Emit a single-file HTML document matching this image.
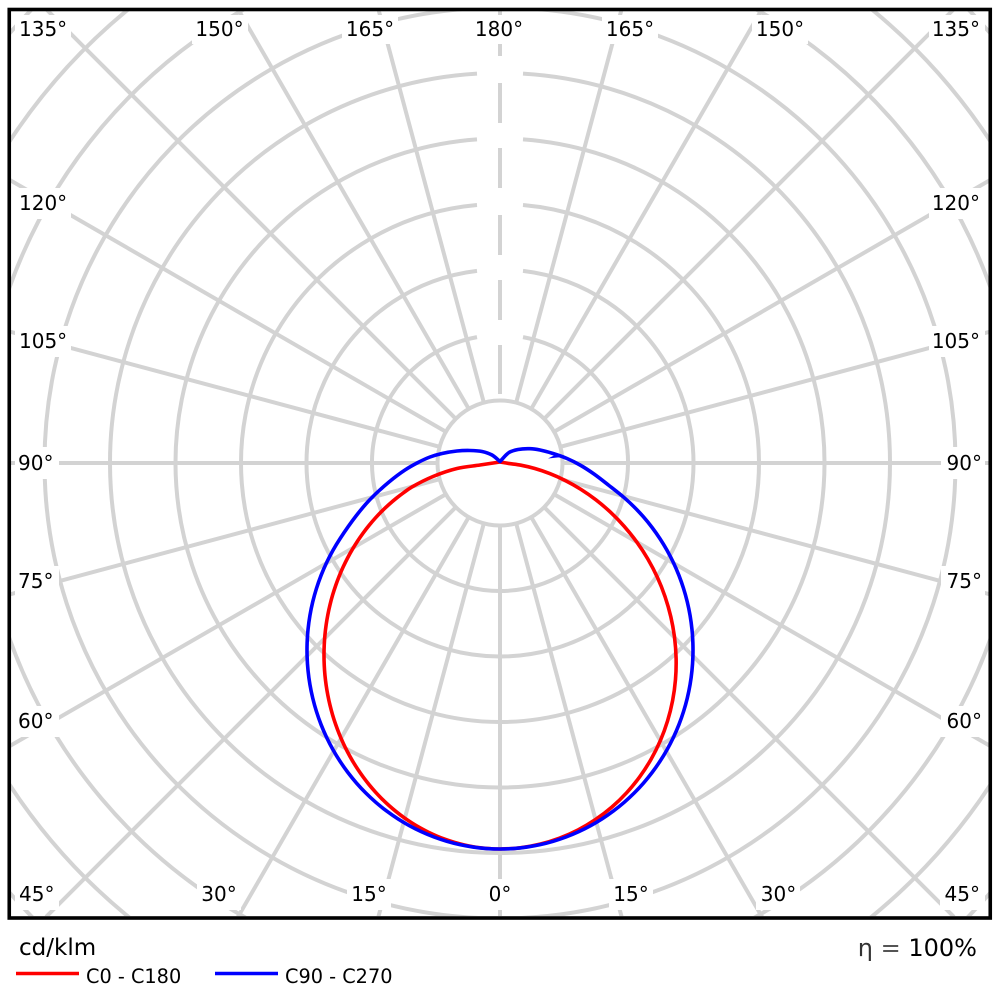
<!DOCTYPE html>
<html>
<head>
<meta charset="utf-8">
<style>
  html, body { margin: 0; padding: 0; background: #fff; width: 1000px; height: 1000px; overflow: hidden; }
  svg { display: block; }
  text { font-family: "DejaVu Sans", "Liberation Sans", sans-serif; }
</style>
</head>
<body>
<svg id="chart" width="1000" height="1000" viewBox="0 0 1000 1000" xmlns="http://www.w3.org/2000/svg">
  <rect x="0" y="0" width="1000" height="1000" fill="#ffffff"/>
  <defs>
    <clipPath id="frameClip">
      <rect x="11" y="11" width="978" height="905"/>
    </clipPath>
  </defs>

  <!-- GRID -->
  <g clip-path="url(#frameClip)" stroke="#d3d3d3" stroke-width="4" fill="none">
    <g transform="translate(500,463)">
      <circle cx="0" cy="0" r="62.5"/>
      <path d="M23,-125.9 A128,128 0 1 1 -23,-125.9"/>
      <path d="M23,-192.13 A193.5,193.5 0 1 1 -23,-192.13"/>
      <path d="M23,-257.98 A259,259 0 1 1 -23,-257.98"/>
      <path d="M23,-323.68 A324.5,324.5 0 1 1 -23,-323.68"/>
      <path d="M23,-389.32 A390,390 0 1 1 -23,-389.32"/>
      <path d="M23,-454.92 A455.5,455.5 0 1 1 -23,-454.92"/>
      <path d="M253.8,455 A521,521 0 0 0 491,174.2"/>
      <path d="M-253.8,455 A521,521 0 0 1 -491,174.2"/>
      <path d="M253.8,-455 A521,521 0 0 1 491,-174.2"/>
      <path d="M-253.8,-455 A521,521 0 0 0 -491,-174.2"/>
      <path d="M370.1,455 A586.5,586.5 0 0 0 491,320.8"/>
      <path d="M-370.1,455 A586.5,586.5 0 0 1 -491,320.8"/>
      <path d="M370.1,-455 A586.5,586.5 0 0 1 491,-320.8"/>
      <path d="M-370.1,-455 A586.5,586.5 0 0 0 -491,-320.8"/>
      <path d="M467,455 A652,652 0 0 0 491,429"/>
      <path d="M-467,455 A652,652 0 0 1 -491,429"/>
      <path d="M467,-455 A652,652 0 0 1 491,-429"/>
      <path d="M-467,-455 A652,652 0 0 0 -491,-429"/>

      <line x1="0" y1="62.5" x2="0" y2="455" transform="rotate(0)"/>
      <line x1="0" y1="62.5" x2="0" y2="471" transform="rotate(15)"/>
      <line x1="0" y1="62.5" x2="0" y2="525" transform="rotate(30)"/>
      <line x1="0" y1="62.5" x2="0" y2="642" transform="rotate(45)"/>
      <line x1="0" y1="62.5" x2="0" y2="566" transform="rotate(60)"/>
      <line x1="0" y1="62.5" x2="0" y2="508" transform="rotate(75)"/>
      <line x1="0" y1="62.5" x2="0" y2="491" transform="rotate(90)"/>
      <line x1="0" y1="62.5" x2="0" y2="508" transform="rotate(105)"/>
      <line x1="0" y1="62.5" x2="0" y2="566" transform="rotate(120)"/>
      <line x1="0" y1="62.5" x2="0" y2="641" transform="rotate(135)"/>
      <line x1="0" y1="62.5" x2="0" y2="524" transform="rotate(150)"/>
      <line x1="0" y1="62.5" x2="0" y2="470" transform="rotate(165)"/>
      <line x1="0" y1="62.5" x2="0" y2="470" transform="rotate(195)"/>
      <line x1="0" y1="62.5" x2="0" y2="524" transform="rotate(210)"/>
      <line x1="0" y1="62.5" x2="0" y2="641" transform="rotate(225)"/>
      <line x1="0" y1="62.5" x2="0" y2="566" transform="rotate(240)"/>
      <line x1="0" y1="62.5" x2="0" y2="508" transform="rotate(255)"/>
      <line x1="0" y1="62.5" x2="0" y2="491" transform="rotate(270)"/>
      <line x1="0" y1="62.5" x2="0" y2="508" transform="rotate(285)"/>
      <line x1="0" y1="62.5" x2="0" y2="566" transform="rotate(300)"/>
      <line x1="0" y1="62.5" x2="0" y2="642" transform="rotate(315)"/>
      <line x1="0" y1="62.5" x2="0" y2="525" transform="rotate(330)"/>
      <line x1="0" y1="62.5" x2="0" y2="471" transform="rotate(345)"/>
    </g>
    <line x1="500" y1="345" x2="500" y2="394"/>
    <line x1="500" y1="280" x2="500" y2="320"/>
    <line x1="500" y1="215" x2="500" y2="255"/>
    <line x1="500" y1="148" x2="500" y2="188"/>
    <line x1="500" y1="83" x2="500" y2="123"/>
    <line x1="500" y1="9" x2="500" y2="56"/>
  </g>

  <!-- LABEL BACKGROUNDS -->
  <g fill="#ffffff">
    <rect x="15" y="15" width="56" height="29"/>
    <rect x="192" y="15" width="56" height="29"/>
    <rect x="342" y="15" width="56" height="29"/>
    <rect x="471" y="15" width="56" height="29"/>
    <rect x="602" y="15" width="56" height="29"/>
    <rect x="752" y="15" width="56" height="29"/>
    <rect x="929" y="15" width="56" height="29"/>
    <rect x="15" y="188" width="56" height="31"/>
    <rect x="15" y="326" width="56" height="31"/>
    <rect x="15" y="447" width="44" height="32"/>
    <rect x="15" y="566" width="44" height="31"/>
    <rect x="15" y="706" width="44" height="31"/>
    <rect x="15" y="879" width="44" height="31"/>
    <rect x="929" y="188" width="56" height="31"/>
    <rect x="929" y="326" width="56" height="31"/>
    <rect x="941" y="447" width="44" height="32"/>
    <rect x="941" y="566" width="44" height="31"/>
    <rect x="941" y="706" width="44" height="31"/>
    <rect x="197" y="879" width="44" height="31"/>
    <rect x="347" y="879" width="44" height="31"/>
    <rect x="485" y="879" width="30" height="31"/>
    <rect x="609" y="879" width="44" height="31"/>
    <rect x="756" y="879" width="44" height="31"/>
    <rect x="940" y="879" width="45" height="31"/>
  </g>

  <!-- LABELS -->
  <g font-size="20" fill="#000000">
    <text x="19" y="36">135°</text>
    <text x="219.5" y="36" text-anchor="middle">150°</text>
    <text x="370" y="36" text-anchor="middle">165°</text>
    <text x="499" y="36" text-anchor="middle">180°</text>
    <text x="630" y="36" text-anchor="middle">165°</text>
    <text x="780" y="36" text-anchor="middle">150°</text>
    <text x="980" y="36" text-anchor="end">135°</text>

    <text x="19" y="210">120°</text>
    <text x="19" y="348">105°</text>
    <text x="18" y="470">90°</text>
    <text x="18" y="588">75°</text>
    <text x="18" y="728">60°</text>
    <text x="19" y="901">45°</text>

    <text x="980" y="210" text-anchor="end">120°</text>
    <text x="980" y="348" text-anchor="end">105°</text>
    <text x="982" y="470" text-anchor="end">90°</text>
    <text x="982" y="588" text-anchor="end">75°</text>
    <text x="982" y="728" text-anchor="end">60°</text>
    <text x="980" y="901" text-anchor="end">45°</text>

    <text x="219" y="901" text-anchor="middle">30°</text>
    <text x="369" y="901" text-anchor="middle">15°</text>
    <text x="500" y="901" text-anchor="middle">0°</text>
    <text x="631" y="901" text-anchor="middle">15°</text>
    <text x="778.5" y="901" text-anchor="middle">30°</text>
  </g>

  <!-- CURVES (fallback polylines; replaced by smooth generated paths via script) -->
  <g id="curves">
  <polyline id="redFallback" fill="none" stroke="#ff0000" stroke-width="3.6" stroke-linejoin="round" stroke-linecap="round"
    points="500,462 480,465 457,468.5 433,476.5 413,487 393,502 373,523 357,547 343,573 332.8,603.3 325.5,637.5 324.1,672.7 328.8,707.5 339.7,740.7 356.3,771.1 378.1,797.8 404.5,819.5 434.3,835.7 466.5,845.6 500,849 533.5,845.6 565.7,835.7 595.5,819.5 622.5,797.8 644.5,771.1 661.5,740.7 673,707.5 678,672.7 676.5,637.5 666,603 654,578 642,555 627,533 610,513 587,493 563,480 540,471.5 523,465 500,462"/>
  <polyline id="blueFallback" fill="none" stroke="#0000ff" stroke-width="3.6" stroke-linejoin="round" stroke-linecap="round"
    points="500,461.5 492,455 482,451.5 470,450.5 457,451 447,452.5 437,455 427,458 418,462 401,472 385,485 370,499 350,527 333,557 317.2,591 310.2,622.3 308.1,654.9 311.3,687.8 320,720.1 333.9,750.6 352.9,778.5 376.4,802.7 403.7,822.4 434,837 466.5,845.9 500,849 533.5,845.9 566,837 596.3,822.4 623.6,802.7 647.1,778.5 666.1,750.6 680,720.1 688.7,687.8 691.9,654.9 689.8,622.3 682.8,591 668,562 650,533 630,507 610,487 590,470 570,458 553,453 533,448.5 520,449 510,452 500,461.5"/>
  </g>
  <polygon points="557,454 548,458.5 562,457" fill="#0000ff"/>

  <!-- FRAME -->
  <rect x="9.25" y="9.5" width="981" height="908.5" fill="none" stroke="#000000" stroke-width="3.6"/>

  <!-- LEGEND -->
  <text x="19" y="955" font-size="23" fill="#000000">cd/klm</text>
  <line x1="16" y1="973.5" x2="79" y2="973.5" stroke="#ff0000" stroke-width="3.6"/>
  <text x="86" y="983" font-size="19.3" fill="#000000">C0 - C180</text>
  <line x1="215" y1="973.5" x2="278" y2="973.5" stroke="#0000ff" stroke-width="3.6"/>
  <text x="285" y="983" font-size="19.3" fill="#000000">C90 - C270</text>

  <text x="977" y="956" font-size="24" text-anchor="end" fill="#000000"><tspan fill="#333333">η</tspan><tspan fill="#555555"> = </tspan>100%</text>
</svg>
<script>
(function(){
  var NS = "http://www.w3.org/2000/svg";
  var D = Math.PI / 180;
  var EPS = 1e-6;
  function dist(a, b) { var dx = a[0]-b[0], dy = a[1]-b[1]; return Math.sqrt(dx*dx + dy*dy); }
  function crPath(p) {
    var n = p.length;
    var d = "M" + p[0][0].toFixed(2) + "," + p[0][1].toFixed(2);
    for (var i = 0; i < n - 1; i++) {
      var P0 = p[i > 0 ? i - 1 : i], P1 = p[i], P2 = p[i + 1], P3 = p[i + 2 < n ? i + 2 : i + 1];
      var l01 = dist(P0, P1), l12 = dist(P1, P2), l23 = dist(P2, P3);
      var l01a = Math.sqrt(l01), l12a = Math.sqrt(l12), l23a = Math.sqrt(l23);
      var c1, c2;
      if (l01a > EPS) {
        var a = 2 * l01 + 3 * l01a * l12a + l12;
        var nn = 3 * l01a * (l01a + l12a);
        c1 = [(P1[0] * a - P0[0] * l12 + P2[0] * l01) / nn,
              (P1[1] * a - P0[1] * l12 + P2[1] * l01) / nn];
      } else {
        c1 = [P1[0] + (P2[0]-P1[0])/3, P1[1] + (P2[1]-P1[1])/3];
      }
      if (l23a > EPS) {
        var b = 2 * l23 + 3 * l23a * l12a + l12;
        var m = 3 * l23a * (l23a + l12a);
        c2 = [(P2[0] * b + P1[0] * l23 - P3[0] * l12) / m,
              (P2[1] * b + P1[1] * l23 - P3[1] * l12) / m];
      } else {
        c2 = [P2[0] - (P2[0]-P1[0])/3, P2[1] - (P2[1]-P1[1])/3];
      }
      d += " C" + c1[0].toFixed(2) + "," + c1[1].toFixed(2) + " " + c2[0].toFixed(2) + "," + c2[1].toFixed(2) + " " + P2[0].toFixed(2) + "," + P2[1].toFixed(2);
    }
    return d;
  }
  function ell(cx, cy, a, b, side, t0, t1, step, out) {
    var dir = t1 >= t0 ? 1 : -1;
    for (var t = t0; (dir > 0 ? t <= t1 + 1e-9 : t >= t1 - 1e-9); t += dir * step) {
      out.push([cx + side * a * Math.sin(t * D), cy + b * Math.cos(t * D)]);
    }
  }
  // RED
  var red = [[500,462],[480,465],[457,468.5],[433,476.5]];
  ell(500, 655, 176, 194, -1, 150, 0, 3, red);
  for (var g = 3; g <= 87; g += 3) {
    var r = 386 * Math.pow(Math.cos(g * D), 1.29);
    red.push([500 + r * Math.sin(g * D), 463 + r * Math.cos(g * D)]);
  }
  red.push([500,462]);
  // BLUE
  var blue = [[500,461.5],[492,455],[482,451.5],[470,450.5],[457,451],[442,453.5],[430,457],[418,462.5],[405,470],[389,482],[370,499.5],[356,516]];
  ell(500, 650, 193, 199, -1, 124, 0, 4, blue);
  ell(500, 650, 193, 199, 1, 4, 140, 4, blue);
  blue.push([609,485.5],[594,474],[580,465],[567,458.5],[553,453.5],[540,450],[530,448.7],[518,449.5],[509,452.5],[500,461.5]);

  function add(pts, color, fb) {
    var path = document.createElementNS(NS, "path");
    path.setAttribute("d", crPath(pts));
    path.setAttribute("fill", "none");
    path.setAttribute("stroke", color);
    path.setAttribute("stroke-width", "3.6");
    path.setAttribute("stroke-linejoin", "round");
    path.setAttribute("stroke-linecap", "round");
    var f = document.getElementById(fb);
    f.parentNode.insertBefore(path, f);
    f.setAttribute("display", "none");
  }
  add(red, "#ff0000", "redFallback");
  add(blue, "#0000ff", "blueFallback");
})();
</script>
</body>
</html>
